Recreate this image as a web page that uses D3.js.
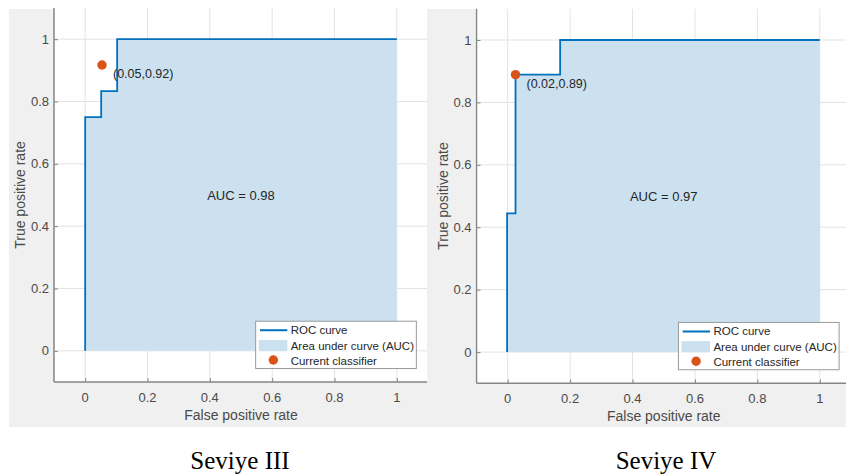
<!DOCTYPE html>
<html>
<head>
<meta charset="utf-8">
<script src="https://cdn.jsdelivr.net/npm/d3@7"></script>
<style>
  html, body { margin: 0; padding: 0; background: #ffffff; }
  svg { display: block; }
</style>
</head>
<body>
<svg id="chart" width="846" height="475"></svg>
<script>
// ---------- data ----------
const panelTitles = ["Seviye III", "Seviye IV"];
const rocX3 = [0, 0, 0.0513, 0.0513, 0.1026, 0.1026, 1];
const rocY3 = [0, 0.75, 0.75, 0.8333, 0.8333, 1, 1];
const rocX4 = [-0.002, -0.002, 0.025, 0.025, 0.168, 0.168, 1];
const rocY4 = [0, 0.4444, 0.4444, 0.8889, 0.8889, 1, 1];
const classifierX = [0.054, 0.025];
const classifierY = [0.917, 0.889];
const classifierLabels = ["(0.05,0.92)", "(0.02,0.89)"];
const aucLabels = ["AUC = 0.98", "AUC = 0.97"];
const tickValues = [0, 0.2, 0.4, 0.6, 0.8, 1];
const tickLabels = ["0", "0.2", "0.4", "0.6", "0.8", "1"];
const legendLabels = ["ROC curve", "Area under curve (AUC)", "Current classifier"];
const xAxisTitle = "False positive rate";
const yAxisTitle = "True positive rate";

// ---------- styles / layout ----------
const lineColor = "#0072bd";
const areaColor = "#cbe1f0";
const dotColor = "#d95319";
const figBg = "#f0f0f0";
const gridColor = "#e3e3e3";
const axisColor = "#858585";
const tickTextColor = "#4a4a4a";
const textColor = "#262626";
const sans = "'Liberation Sans', Arial, Helvetica, sans-serif";

const panels = [
  { rocX: rocX3, rocY: rocY3, bg: [9, 9, 418, 418], ax: [54, 8, 428, 382], clipRight: 427, caption: 240 },
  { rocX: rocX4, rocY: rocY4, bg: [427, 9, 419, 418], ax: [476.5, 8.8, 851, 383.3], clipRight: 846, caption: 666 }
];

const svg = d3.select("#chart");
const defs = svg.append("defs");

panels.forEach((p, i) => {
  const g = svg.append("g");
  g.append("rect").attr("x", p.bg[0]).attr("y", p.bg[1]).attr("width", p.bg[2]).attr("height", p.bg[3]).attr("fill", figBg);

  const [L, T, R, B] = p.ax;
  const x = d3.scaleLinear().domain([-0.1, 1.1]).range([L, R]);
  const y = d3.scaleLinear().domain([-0.1, 1.1]).range([B, T]);

  const clipId = "clip" + i;
  defs.append("clipPath").attr("id", clipId).append("rect")
    .attr("x", L - 1).attr("y", 0).attr("width", p.clipRight - L + 1).attr("height", B + 2);

  const a = g.append("g").attr("clip-path", `url(#${clipId})`);
  a.append("rect").attr("x", L).attr("y", T).attr("width", R - L).attr("height", B - T).attr("fill", "#ffffff");

  // grid
  a.selectAll(".gx").data(tickValues).join("line")
    .attr("x1", d => x(d)).attr("x2", d => x(d)).attr("y1", T).attr("y2", B)
    .attr("stroke", gridColor).attr("stroke-width", 1);
  a.selectAll(".gy").data(tickValues).join("line")
    .attr("y1", d => y(d)).attr("y2", d => y(d)).attr("x1", L).attr("x2", R)
    .attr("stroke", gridColor).attr("stroke-width", 1);

  // area + curve
  const pts = p.rocX.map((v, k) => [v, p.rocY[k]]);
  const area = d3.area().x(d => x(d[0])).y0(y(0)).y1(d => y(d[1]));
  a.append("path").datum(pts).attr("d", area).attr("fill", areaColor);
  const line = d3.line().x(d => x(d[0])).y(d => y(d[1]));
  a.append("path").datum(pts).attr("d", line).attr("fill", "none")
    .attr("stroke", lineColor).attr("stroke-width", 1.8).attr("stroke-linejoin", "miter");

  // AUC text
  a.append("text").attr("x", x(0.5)).attr("y", y(0.5)).attr("text-anchor", "middle")
    .attr("dominant-baseline", "central").attr("font-family", sans)
    .attr("font-size", 13).attr("fill", textColor).text(aucLabels[i]);

  // classifier
  a.append("circle").attr("cx", x(classifierX[i])).attr("cy", y(classifierY[i])).attr("r", 4.7).attr("fill", dotColor);
  a.append("text").attr("x", x(classifierX[i]) + 11).attr("y", y(classifierY[i]) + 9)
    .attr("dominant-baseline", "central").attr("font-family", sans)
    .attr("font-size", 12.5).attr("fill", textColor).text(classifierLabels[i]);

  // axes (ticks inward)
  const xAxis = d3.axisTop(x).tickValues(tickValues).tickFormat(() => "").tickSize(4).tickSizeOuter(0);
  const yAxis = d3.axisRight(y).tickValues(tickValues).tickFormat(() => "").tickSize(4).tickSizeOuter(0);
  const gx = a.append("g").attr("transform", `translate(0,${B})`).call(xAxis);
  const gy = a.append("g").attr("transform", `translate(${L},0)`).call(yAxis);
  [gx, gy].forEach(ag => {
    ag.select(".domain").remove();
    ag.selectAll(".tick line").attr("stroke", axisColor).attr("stroke-width", 1);
  });
  a.append("line").attr("x1", L).attr("x2", R).attr("y1", B).attr("y2", B).attr("stroke", axisColor).attr("stroke-width", 1.5);
  a.append("line").attr("x1", L).attr("x2", L).attr("y1", T).attr("y2", B).attr("stroke", axisColor).attr("stroke-width", 1.5);

  // tick labels
  g.selectAll(".xl").data(tickValues).join("text")
    .attr("x", d => x(d)).attr("y", B + 15).attr("text-anchor", "middle").attr("dominant-baseline", "central")
    .attr("font-family", sans).attr("font-size", 13).attr("fill", tickTextColor)
    .text((d, k) => tickLabels[k]);
  g.selectAll(".yl").data(tickValues).join("text")
    .attr("x", L - 5).attr("y", d => y(d)).attr("text-anchor", "end").attr("dominant-baseline", "central")
    .attr("font-family", sans).attr("font-size", 13).attr("fill", tickTextColor)
    .text((d, k) => tickLabels[k]);

  // axis titles
  g.append("text").attr("x", x(0.5)).attr("y", B + 33).attr("text-anchor", "middle").attr("dominant-baseline", "central")
    .attr("font-family", sans).attr("font-size", 14).attr("fill", tickTextColor).text(xAxisTitle);
  g.append("text").attr("transform", `translate(${L - 34},${y(0.5)}) rotate(-90)`).attr("text-anchor", "middle")
    .attr("dominant-baseline", "central")
    .attr("font-family", sans).attr("font-size", 14).attr("fill", tickTextColor).text(yAxisTitle);

  // legend
  const legX = x(0.547), legY = y(0.095), legW = 160.7, legH = 47.3;
  const lg = a.append("g");
  lg.append("rect").attr("x", legX).attr("y", legY).attr("width", legW).attr("height", legH)
    .attr("fill", "#ffffff").attr("stroke", "#9a9a9a").attr("stroke-width", 1);
  const rowY = [legY + 9, legY + 25, legY + 39.5];
  lg.append("line").attr("x1", legX + 4.3).attr("x2", legX + 31.7).attr("y1", rowY[0]).attr("y2", rowY[0])
    .attr("stroke", lineColor).attr("stroke-width", 2);
  lg.append("rect").attr("x", legX + 3).attr("y", rowY[1] - 6.3).attr("width", 28.7).attr("height", 11.3).attr("fill", areaColor);
  lg.append("circle").attr("cx", legX + 17.7).attr("cy", rowY[2] - 0.7).attr("r", 4.7).attr("fill", dotColor);
  lg.selectAll(".lt").data(legendLabels).join("text")
    .attr("x", legX + 35).attr("y", (d, k) => rowY[k]).attr("dominant-baseline", "central")
    .attr("font-family", sans).attr("font-size", 11.5).attr("fill", textColor)
    .text(d => d);

  // caption
  svg.append("text").attr("x", p.caption).attr("y", 469).attr("text-anchor", "middle")
    .attr("font-family", "'Liberation Serif', 'Times New Roman', serif").attr("font-size", 25).attr("fill", "#000000")
    .text(panelTitles[i]);
});
</script>
</body>
</html>
